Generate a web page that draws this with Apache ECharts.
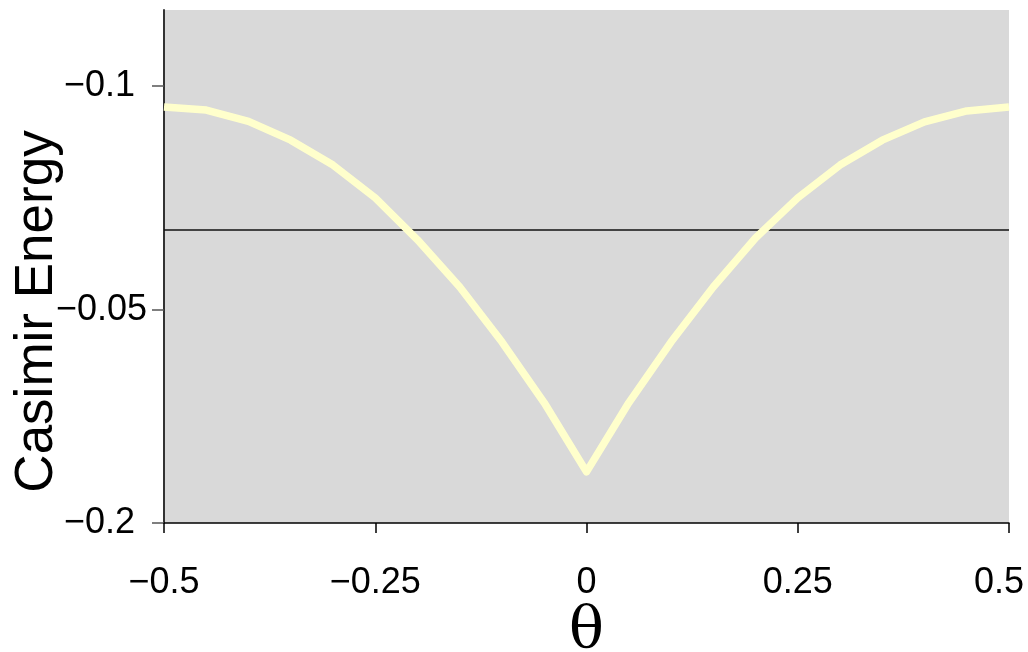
<!DOCTYPE html>
<html>
<head>
<meta charset="utf-8">
<script src="https://cdn.jsdelivr.net/npm/echarts@6/dist/echarts.min.js"></script>
<style>
html,body{margin:0;padding:0;background:#fff;}
#chart{width:1028px;height:652px;}
</style>
</head>
<body>
<div id="chart"></div>
<script>
const theta = [-0.5,-0.45,-0.4,-0.35,-0.3,-0.25,-0.2,-0.15,-0.1,-0.05,0,0.05,0.1,0.15,0.2,0.25,0.3,0.35,0.4,0.45,0.5];
const energy = [-0.1048,-0.1055,-0.1081,-0.1124,-0.1181,-0.1256,-0.1352,-0.1460,-0.1586,-0.1725,-0.1883,-0.1725,-0.1586,-0.1460,-0.1348,-0.1256,-0.1181,-0.1124,-0.1082,-0.1057,-0.1048];
const refLineValue = -0.13295;
const xTickValues = [-0.5,-0.25,0,0.25,0.5];
const xTickLabels = ['\u22120.5','\u22120.25','0','0.25','0.5'];
const yTickValues = [-0.2,-0.15126,-0.1];
const yTickLabels = ['\u22120.2','\u22120.05','\u22120.1'];
const yMin = -0.2, yMax = -0.08261;

const chart = echarts.init(document.getElementById('chart'), null, {renderer:'canvas'});
const font = 'Liberation Sans, Arial, sans-serif';
chart.setOption({
  animation:false,
  backgroundColor:'#ffffff',
  grid:{left:164,right:19,top:10,bottom:129,containLabel:false,outerBoundsMode:'none',show:true,backgroundColor:'#d9d9d9',borderWidth:0},
  xAxis:{
    type:'value',min:-0.5,max:0.5,interval:0.25,
    name:'\u03b8',nameLocation:'middle',nameGap:80,nameMoveOverlap:false,
    nameTextStyle:{fontFamily:'DejaVu Serif, Liberation Serif, serif',fontSize:58,color:'#000'},
    axisLine:{show:true,onZero:false,lineStyle:{color:'#000',width:1.5}},
    axisTick:{show:true,length:10,lineStyle:{color:'#000',width:1.5}},
    splitLine:{show:false},
    axisLabel:{fontFamily:font,fontSize:36,color:'#000',margin:42,
      formatter:function(v){
        const i=xTickValues.findIndex(t=>Math.abs(t-v)<1e-9);
        if(i<0) return '';
        return i===xTickValues.length-1 ? '{r|'+xTickLabels[i]+'}' : xTickLabels[i];
      },
      rich:{r:{fontFamily:font,fontSize:36,color:'#000',padding:[0,20,0,0]}}
    }
  },
  yAxis:{
    type:'value',min:yMin,max:yMax,
    name:'Casimir Energy',nameLocation:'middle',nameGap:100,nameMoveOverlap:false,
    nameTextStyle:{fontFamily:font,fontSize:53,color:'#000',padding:[0,90,0,0]},
    axisLine:{show:true,onZero:false,lineStyle:{color:'#333',width:2}},
    axisTick:{show:true,length:12,customValues:yTickValues,lineStyle:{color:'#555',width:1.5}},
    splitLine:{show:false},
    axisLabel:{fontFamily:font,fontSize:36,color:'#000',margin:17,customValues:yTickValues,
      formatter:function(v){
        const i=yTickValues.findIndex(t=>Math.abs(t-v)<1e-6);
        if(i<0) return '';
        return i===1 ? yTickLabels[i] : '{p|'+yTickLabels[i]+'}';
      },
      rich:{p:{fontFamily:font,fontSize:36,color:'#000',padding:[0,12,0,0]}}
    }
  },
  series:[
    {type:'line',z:2,silent:true,symbol:'none',
     data:[[theta[0],refLineValue],[theta[theta.length-1],refLineValue]],
     lineStyle:{color:'#111',width:1.6}},
    {type:'line',z:3,symbol:'none',smooth:false,
     data:theta.map((t,i)=>[t,energy[i]]),
     lineStyle:{color:'#ffffcc',width:7.5,join:'round'}}
  ]
});
</script>
</body>
</html>
